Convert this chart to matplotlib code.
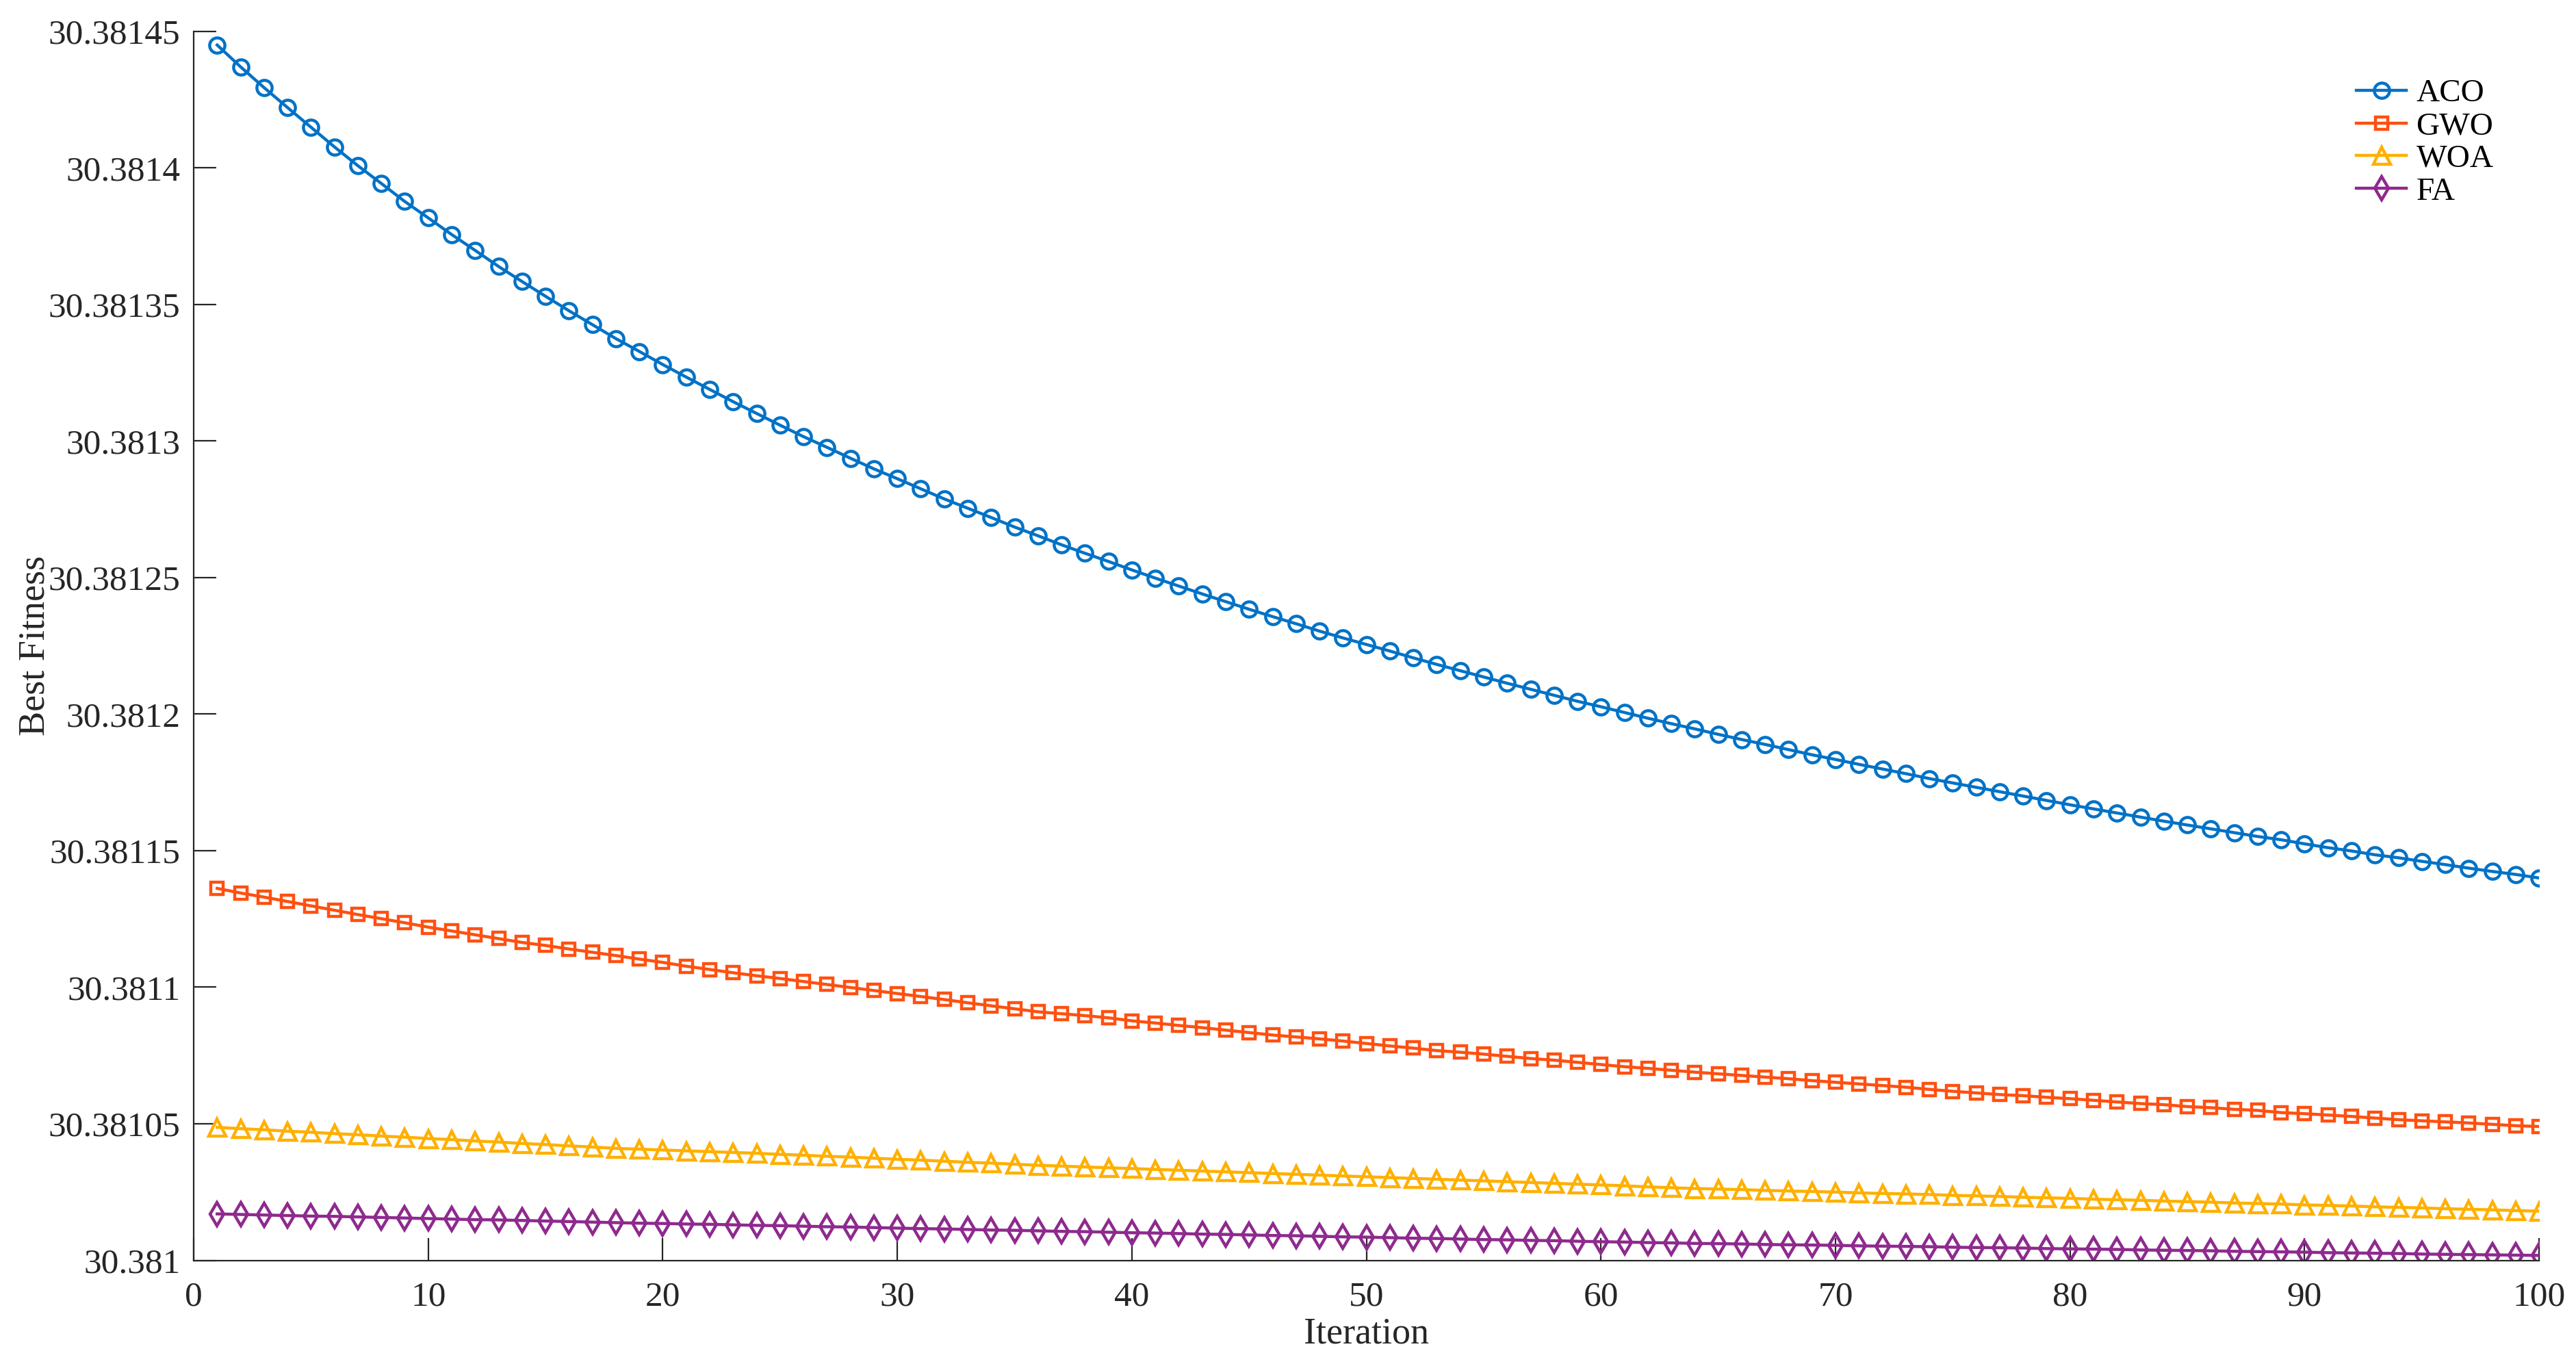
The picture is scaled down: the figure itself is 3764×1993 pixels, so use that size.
import numpy as np
import matplotlib
matplotlib.use("Agg")
import matplotlib.pyplot as plt

# Konvergenzkurven
iterations = list(range(1, 101))

aco = [30.3814450, 30.3814370, 30.3814294, 30.3814221, 30.3814149, 30.3814077, 30.3814008, 30.3813943, 30.3813877, 30.3813817,
       30.3813756, 30.3813698, 30.3813639, 30.3813584, 30.3813530, 30.3813477, 30.3813426, 30.3813375, 30.3813328, 30.3813280,
       30.3813234, 30.3813189, 30.3813144, 30.3813101, 30.3813058, 30.3813016, 30.3812977, 30.3812937, 30.3812898, 30.3812862,
       30.3812825, 30.3812788, 30.3812754, 30.3812720, 30.3812685, 30.3812653, 30.3812620, 30.3812589, 30.3812559, 30.3812528,
       30.3812498, 30.3812469, 30.3812440, 30.3812412, 30.3812384, 30.3812357, 30.3812331, 30.3812304, 30.3812279, 30.3812255,
       30.3812231, 30.3812206, 30.3812182, 30.3812159, 30.3812136, 30.3812113, 30.3812091, 30.3812069, 30.3812047, 30.3812027,
       30.3812006, 30.3811985, 30.3811965, 30.3811946, 30.3811926, 30.3811907, 30.3811889, 30.3811870, 30.3811851, 30.3811834,
       30.3811816, 30.3811799, 30.3811782, 30.3811764, 30.3811748, 30.3811732, 30.3811716, 30.3811700, 30.3811684, 30.3811668,
       30.3811653, 30.3811638, 30.3811623, 30.3811608, 30.3811594, 30.3811580, 30.3811566, 30.3811552, 30.3811540, 30.3811525,
       30.3811511, 30.3811499, 30.3811485, 30.3811474, 30.3811461, 30.3811449, 30.3811436, 30.3811424, 30.3811413, 30.3811400]

gwo = [30.3811362, 30.3811345, 30.3811330, 30.3811314, 30.3811298, 30.3811282, 30.3811266, 30.3811251, 30.3811236, 30.3811220,
       30.3811206, 30.3811192, 30.3811178, 30.3811164, 30.3811153, 30.3811140, 30.3811128, 30.3811116, 30.3811103, 30.3811091,
       30.3811077, 30.3811065, 30.3811053, 30.3811042, 30.3811032, 30.3811021, 30.3811010, 30.3810999, 30.3810988, 30.3810977,
       30.3810966, 30.3810955, 30.3810943, 30.3810932, 30.3810921, 30.3810910, 30.3810903, 30.3810896, 30.3810888, 30.3810877,
       30.3810869, 30.3810860, 30.3810852, 30.3810843, 30.3810834, 30.3810825, 30.3810818, 30.3810811, 30.3810803, 30.3810794,
       30.3810785, 30.3810777, 30.3810768, 30.3810762, 30.3810755, 30.3810747, 30.3810739, 30.3810733, 30.3810725, 30.3810717,
       30.3810709, 30.3810703, 30.3810696, 30.3810689, 30.3810683, 30.3810677, 30.3810671, 30.3810665, 30.3810658, 30.3810652,
       30.3810646, 30.3810640, 30.3810634, 30.3810626, 30.3810619, 30.3810613, 30.3810607, 30.3810603, 30.3810597, 30.3810592,
       30.3810586, 30.3810580, 30.3810574, 30.3810570, 30.3810563, 30.3810559, 30.3810553, 30.3810549, 30.3810541, 30.3810537,
       30.3810532, 30.3810527, 30.3810521, 30.3810515, 30.3810511, 30.3810507, 30.3810503, 30.3810498, 30.3810493, 30.3810490]

woa = [30.3810487, 30.3810482, 30.3810478, 30.3810473, 30.3810469, 30.3810464, 30.3810460, 30.3810455, 30.3810451, 30.3810446,
       30.3810442, 30.3810437, 30.3810433, 30.3810428, 30.3810424, 30.3810419, 30.3810415, 30.3810410, 30.3810407, 30.3810404,
       30.3810401, 30.3810398, 30.3810395, 30.3810392, 30.3810388, 30.3810385, 30.3810381, 30.3810378, 30.3810374, 30.3810370,
       30.3810367, 30.3810363, 30.3810359, 30.3810356, 30.3810352, 30.3810348, 30.3810345, 30.3810342, 30.3810339, 30.3810336,
       30.3810333, 30.3810330, 30.3810327, 30.3810324, 30.3810321, 30.3810318, 30.3810315, 30.3810312, 30.3810309, 30.3810306,
       30.3810303, 30.3810300, 30.3810297, 30.3810294, 30.3810291, 30.3810288, 30.3810285, 30.3810282, 30.3810279, 30.3810276,
       30.3810273, 30.3810269, 30.3810266, 30.3810263, 30.3810261, 30.3810259, 30.3810256, 30.3810254, 30.3810252, 30.3810250,
       30.3810247, 30.3810245, 30.3810243, 30.3810241, 30.3810238, 30.3810236, 30.3810234, 30.3810231, 30.3810229, 30.3810227,
       30.3810224, 30.3810222, 30.3810220, 30.3810217, 30.3810215, 30.3810213, 30.3810210, 30.3810208, 30.3810206, 30.3810203,
       30.3810201, 30.3810199, 30.3810196, 30.3810194, 30.3810192, 30.3810189, 30.3810187, 30.3810185, 30.3810182, 30.3810180]

fa = [30.3810170, 30.3810168, 30.3810166, 30.3810164, 30.3810162, 30.3810161, 30.3810159, 30.3810157, 30.3810155, 30.3810153,
      30.3810151, 30.3810149, 30.3810148, 30.3810146, 30.3810144, 30.3810142, 30.3810140, 30.3810138, 30.3810136, 30.3810135,
      30.3810133, 30.3810132, 30.3810130, 30.3810128, 30.3810127, 30.3810125, 30.3810123, 30.3810122, 30.3810120, 30.3810118,
      30.3810116, 30.3810115, 30.3810113, 30.3810111, 30.3810110, 30.3810108, 30.3810106, 30.3810105, 30.3810103, 30.3810101,
      30.3810100, 30.3810098, 30.3810096, 30.3810095, 30.3810093, 30.3810091, 30.3810090, 30.3810088, 30.3810086, 30.3810085,
      30.3810083, 30.3810081, 30.3810080, 30.3810078, 30.3810076, 30.3810075, 30.3810073, 30.3810072, 30.3810070, 30.3810068,
      30.3810067, 30.3810065, 30.3810064, 30.3810062, 30.3810061, 30.3810060, 30.3810058, 30.3810057, 30.3810056, 30.3810055,
      30.3810053, 30.3810052, 30.3810051, 30.3810050, 30.3810048, 30.3810047, 30.3810046, 30.3810045, 30.3810043, 30.3810042,
      30.3810041, 30.3810040, 30.3810038, 30.3810037, 30.3810036, 30.3810035, 30.3810033, 30.3810032, 30.3810031, 30.3810030,
      30.3810028, 30.3810027, 30.3810026, 30.3810025, 30.3810023, 30.3810022, 30.3810021, 30.3810020, 30.3810019, 30.3810018]

y_ticks = [30.381, 30.38105, 30.3811, 30.38115, 30.3812, 30.38125, 30.3813, 30.38135, 30.3814, 30.38145]
y_tick_labels = ["30.381", "30.38105", "30.3811", "30.38115", "30.3812",
                 "30.38125", "30.3813", "30.38135", "30.3814", "30.38145"]
x_ticks = [0, 10, 20, 30, 40, 50, 60, 70, 80, 90, 100]

# Stil der Linien: Name, Werte, Farbe, Marker, Markergroesse
serien = [
    ("ACO", aco, "#0072C6", "o", 8.0),
    ("GWO", gwo, "#FF5010", "s", 6.5),
    ("WOA", woa, "#FFB000", "^", 9.0),
    ("FA", fa, "#8E2A8E", "d", 8.5),
]

plt.rcParams["font.family"] = ["Liberation Serif", "DejaVu Serif"]

fig = plt.figure(figsize=(18.82, 9.965), dpi=200)
ax = fig.add_axes([0.0752, 0.076, 0.9105, 0.901])

for name, werte, farbe, marker, ms in serien:
    ax.plot(iterations, werte, color=farbe, marker=marker, markersize=ms,
            markerfacecolor="none", markeredgewidth=1.6, linewidth=1.6, label=name)

ax.set_xlim(0, 100)
ax.set_ylim(30.381, 30.38145)
ax.set_xticks(x_ticks)
ax.set_yticks(y_ticks, labels=y_tick_labels)

for side in ["top", "right"]:
    ax.spines[side].set_visible(False)
for side in ["left", "bottom"]:
    ax.spines[side].set_color("#262626")
    ax.spines[side].set_linewidth(0.8)

ax.tick_params(direction="in", length=12, width=0.8, colors="#262626", labelsize=18.5)
ax.tick_params(axis="y", pad=7)
ax.tick_params(axis="x", pad=11)

ax.set_xlabel("Iteration", fontsize=19.5, color="#262626", labelpad=2)
ax.set_ylabel("Best Fitness", fontsize=19.5, color="#262626", labelpad=-2)

leg = ax.legend(loc="upper left", bbox_to_anchor=(0.9085, 0.954), bbox_transform=fig.transFigure,
                frameon=False, fontsize=17, handlelength=1.55, handletextpad=0.3,
                labelspacing=0.1, borderpad=0)

fig.savefig("out.png", dpi=200, facecolor="white")
